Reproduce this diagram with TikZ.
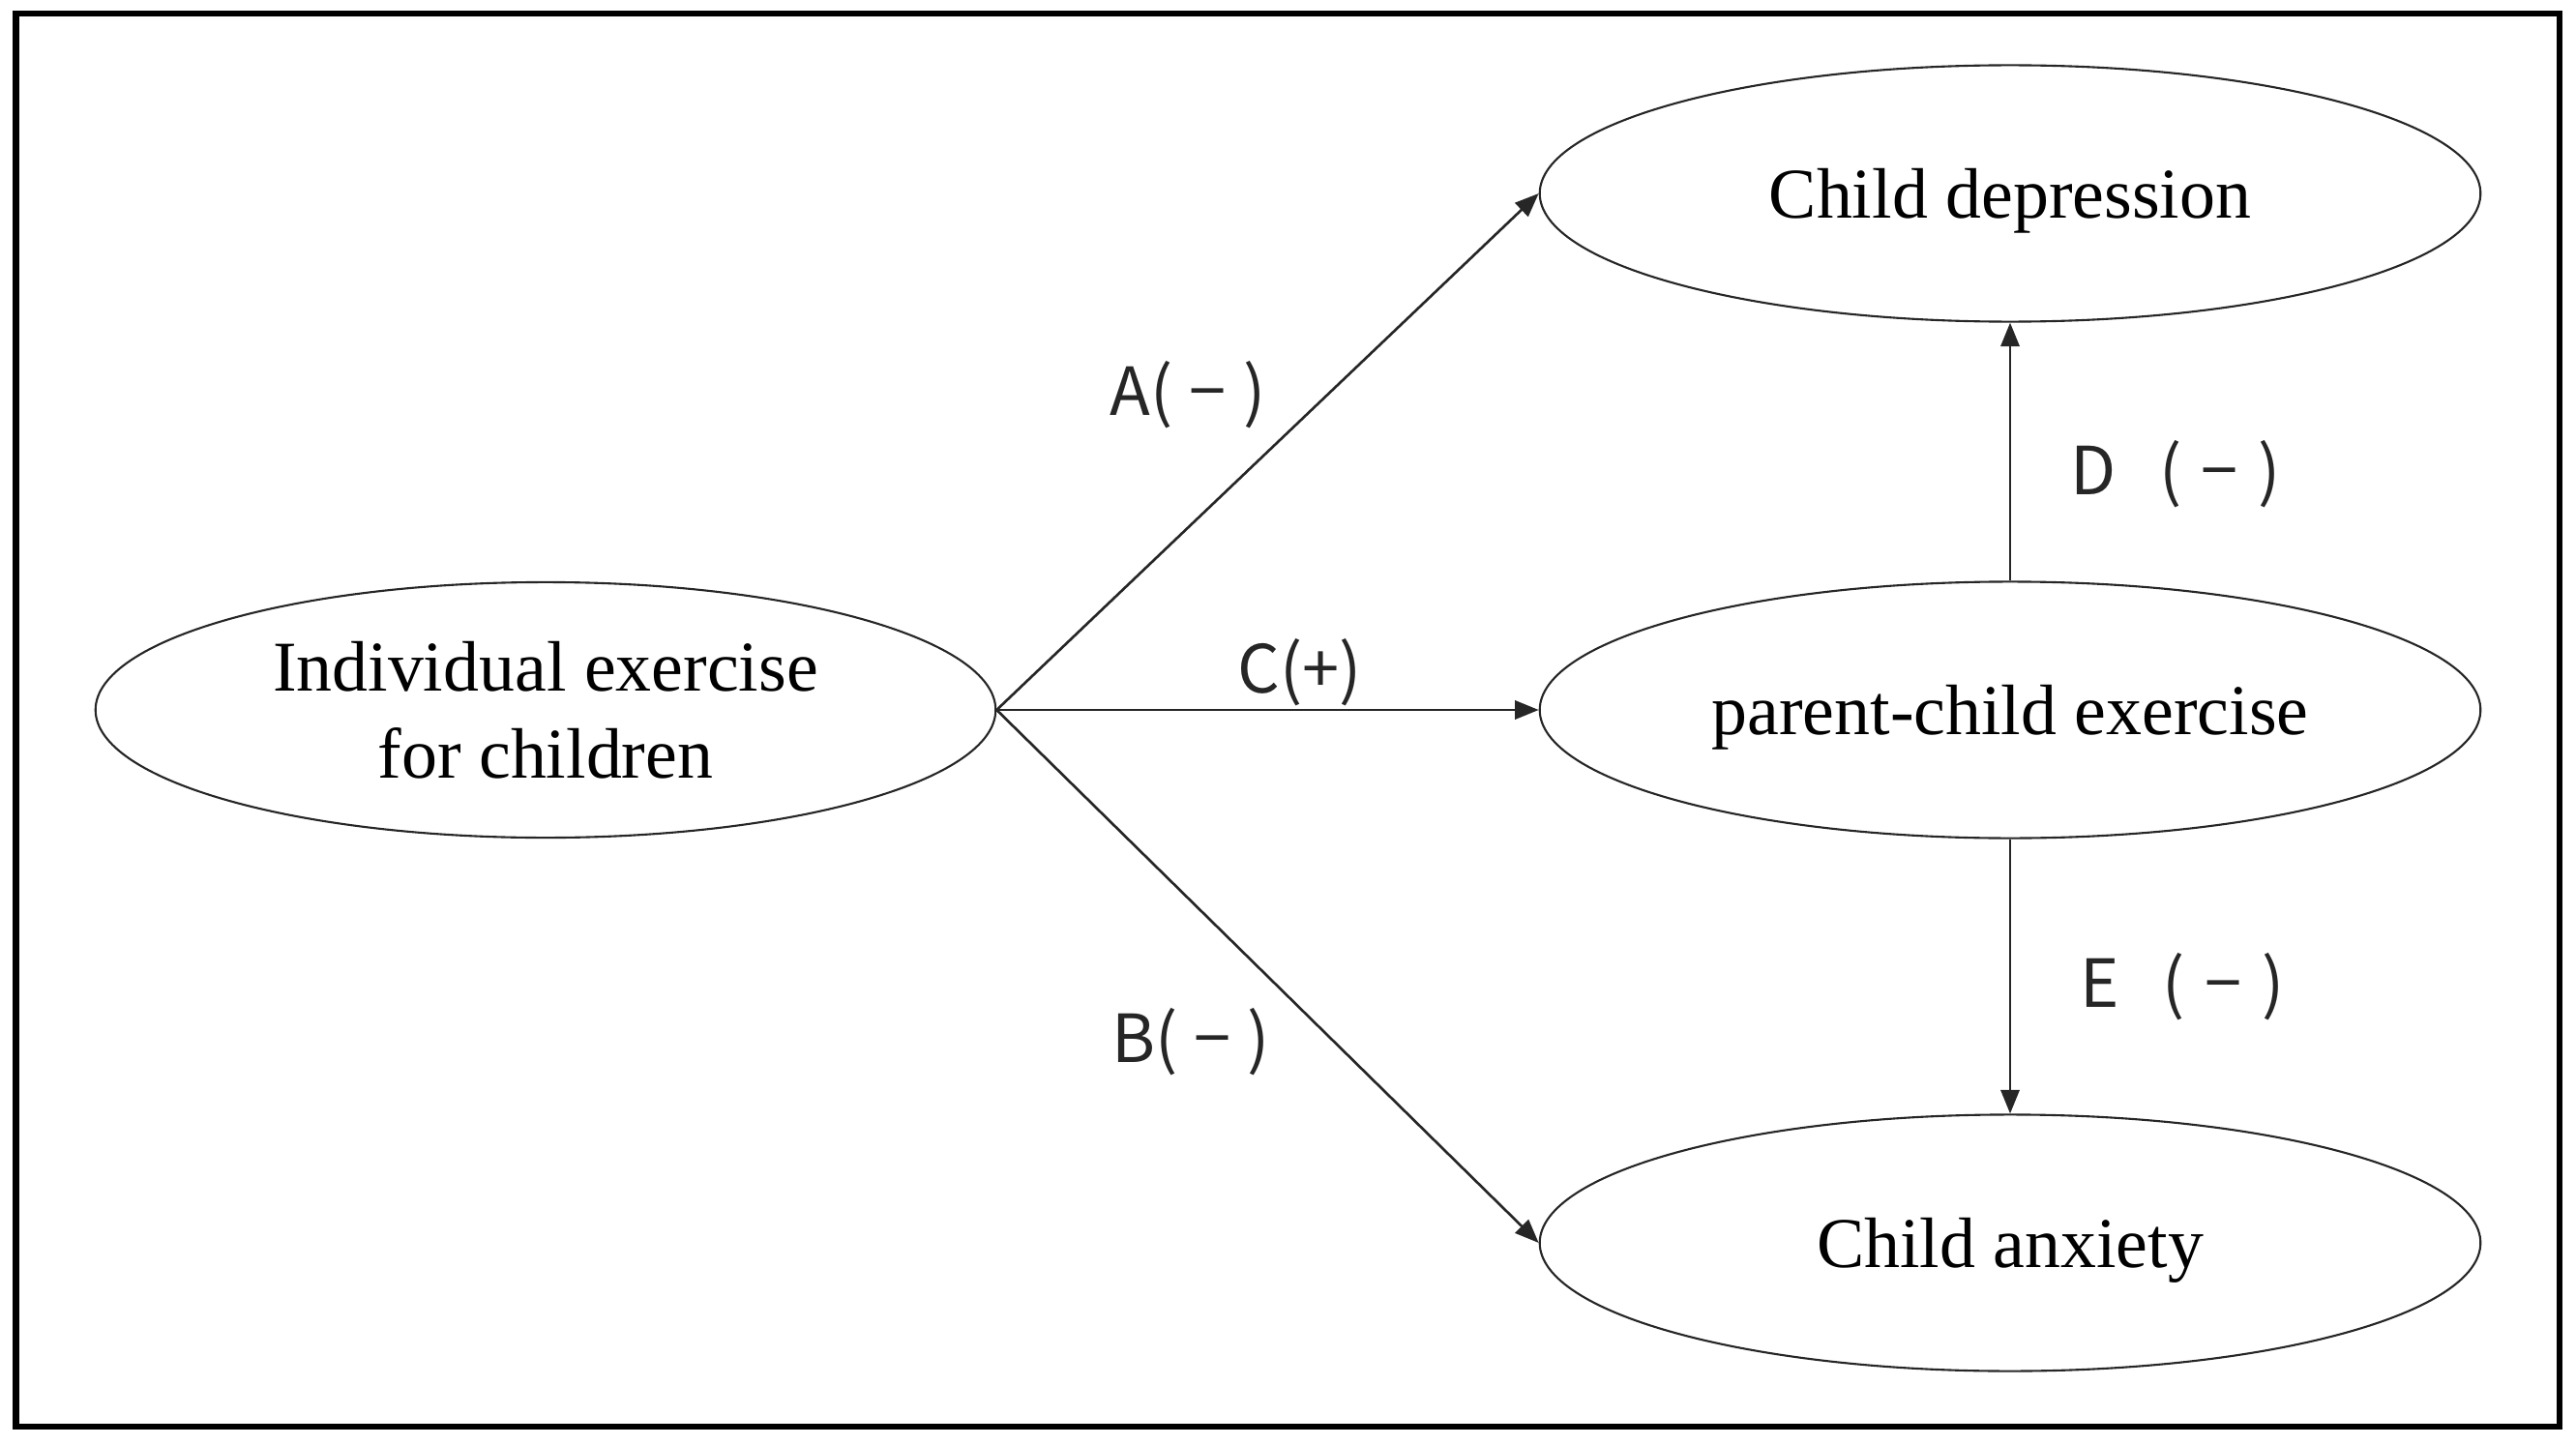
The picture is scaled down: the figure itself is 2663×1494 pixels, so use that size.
\documentclass[tikz,border=0pt]{standalone}
\usepackage{fontspec}
\setmainfont{Liberation Serif}
\newfontfamily\lblfont{Noto Sans CJK KR}
\usetikzlibrary{shapes.geometric,arrows.meta}
\begin{document}
\begin{tikzpicture}[x=0.01cm,y=-0.01cm,
 ell/.style={draw=black!85, line width=0.6pt, ellipse, inner sep=0pt,
   font=\fontsize{21}{25.6}\selectfont, align=center},
 bigell/.style={ell, minimum width=9.72cm, minimum height=2.65cm, text depth=0pt},
 conn/.style={draw=black!85, line width=0.75pt, -{Triangle[length=7pt,width=5.5pt]}},
 lbl/.style={font=\lblfont\fontsize{19.5}{22}\selectfont, inner sep=0pt, text=black!85},
 frame/.style={draw=black, line width=1.85pt}]
\useasboundingbox (0,0) rectangle (2663,1494);
\draw[frame] (16.5,14) rectangle (2646,1475);

\node[ell, minimum width=9.30cm, minimum height=2.64cm] (ind) at (564,734) {Individual exercise\\for children};
\node[bigell] (dep) at (2078,200) {Child depression};
\node[bigell] (pce) at (2078,734) {parent-child exercise};
\node[bigell] (anx) at (2078,1285) {Child anxiety};

\draw[conn] (ind.east) -- (dep.west);
\draw[conn] (ind.east) -- (pce.west);
\draw[conn] (ind.east) -- (anx.west);
\draw[conn] (pce.north) -- (dep.south);
\draw[conn] (pce.south) -- (anx.north);

\node[lbl] (la) at (1228,408) {A(\hspace{0.25em}−\hspace{0.25em})};
\node[lbl] (lc) at (1344,695) {C(+)};
\node[lbl] (lb) at (1231,1077) {B(\hspace{0.25em}−\hspace{0.25em})};
\node[lbl] (ld) at (2249,490) {D\hspace{0.65em}(\hspace{0.3em}−\hspace{0.3em})};
\node[lbl] (le) at (2256,1020) {E\hspace{0.65em}(\hspace{0.3em}−\hspace{0.3em})};
\end{tikzpicture}
\end{document}
